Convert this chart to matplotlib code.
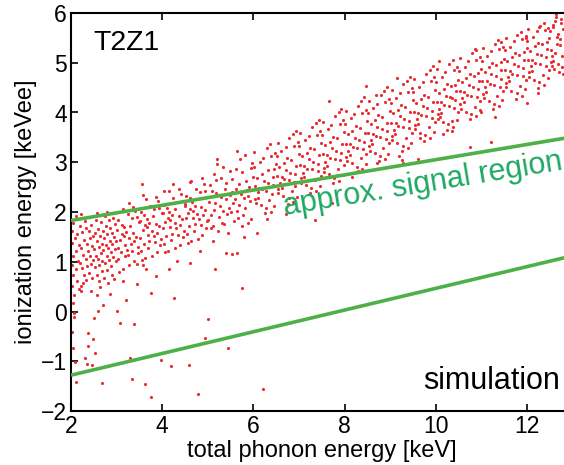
import numpy as np
import matplotlib
matplotlib.use("Agg")
import matplotlib.pyplot as plt

plt.rcParams['font.family'] = ['Liberation Sans', 'DejaVu Sans']

# (phonon energy [keV], ionization energy [keVee]), by energy range
pts_2_25 = [(2.02, 1.62), (2.03, 1.38), (2.04, 1.12), (2.02, 0.93), (2.05, 0.74), (2.03, 0.52), (2.06, 0.34),
            (2.04, 0.18), (2.07, -0.04), (2.06, -0.12), (2.03, -0.41), (2.05, -0.73), (2.08, -1.02), (2.10, -1.42),
            (2.04, 1.78), (2.09, 1.48), (2.11, 1.21), (2.12, 0.86), (2.14, 1.55), (2.15, 1.02), (2.13, 0.62),
            (2.17, 1.33), (2.18, 0.46), (2.19, 1.71), (2.20, 0.98), (2.21, 0.52), (2.22, 1.28), (2.23, 0.41),
            (2.24, 1.59), (2.25, 0.88), (2.26, 0.57), (2.27, 1.14), (2.28, 1.44), (2.29, 0.73), (2.30, -0.93),
            (2.31, 1.82), (2.32, 1.05), (2.33, 0.63), (2.34, 1.36), (2.35, -1.05), (2.36, 0.92), (2.37, -0.44),
            (2.38, 1.21), (2.37, -0.70), (2.39, 1.62), (2.40, 0.78), (2.41, 1.47), (2.42, 1.12), (2.43, 0.95),
            (2.44, 1.74), (2.45, -1.08), (2.46, 1.31), (2.47, 0.68), (2.48, -0.56), (2.48, 1.52), (2.49, 1.03),
            (2.12, 1.92), (2.22, 1.95), (2.33, 1.67), (2.44, 0.42)]
pts_25_3 = [(2.50, -0.14), (2.51, 1.25), (2.52, -0.84), (2.52, 0.89), (2.53, 1.58), (2.54, 1.12), (2.55, 1.84),
            (2.56, 0.73), (2.57, 1.41), (2.58, 0.33), (2.59, 1.06), (2.60, 0.01), (2.60, 1.66), (2.61, 1.29),
            (2.62, 0.94), (2.63, 1.51), (2.64, 0.49), (2.65, 1.17), (2.66, 1.79), (2.67, 0.82), (2.68, -1.43),
            (2.68, 1.36), (2.69, 1.02), (2.70, 0.13), (2.70, 1.62), (2.71, 1.23), (2.72, 0.67), (2.73, 1.47),
            (2.74, 1.91), (2.75, 0.98), (2.76, 1.33), (2.77, 1.71), (2.78, 1.12), (2.79, 2.01), (2.79, 0.84),
            (2.80, 1.55), (2.81, 1.27), (2.82, 0.58), (2.83, 1.83), (2.84, 1.04), (2.85, 1.42), (2.86, 1.68),
            (2.87, 0.91), (2.88, 1.19), (2.89, 1.57), (2.90, 0.74), (2.91, 1.36), (2.92, 1.88), (2.93, 1.09),
            (2.94, 1.49), (2.95, 0.66), (2.96, 1.25), (2.97, 1.76), (2.98, 1.01), (2.99, 1.41), (2.58, 1.97),
            (2.72, 1.95), (2.86, 0.35), (2.62, 0.61)]
pts_3_35 = [(3.02, 1.28), (3.28, 0.93), (3.11, 1.74), (3.39, 1.41), (3.04, 1.06), (3.33, 1.87), (3.17, 1.52),
            (3.46, 1.17), (3.01, 1.63), (3.22, 1.24), (3.41, 2.03), (3.13, 0.86), (3.36, 1.58), (3.07, 1.44),
            (3.49, 1.79), (3.19, 1.11), (3.31, 1.36), (3.24, 1.96), (3.09, 1.19), (3.43, 1.49), (3.16, 1.69),
            (3.38, 1.02), (3.03, 1.83), (3.27, 1.47), (3.48, 1.29), (3.14, 2.07), (3.34, 1.21), (3.21, 1.59),
            (3.06, 0.79), (3.44, 1.89), (3.29, 1.72), (3.18, 1.33), (3.37, 2.11), (3.12, 1.55), (3.45, 0.96),
            (3.26, 1.14), (3.00, 0.02), (3.07, -0.24), (3.20, 0.23), (3.30, -0.94), (3.34, -1.35),
            (3.38, -0.26), (3.13, 0.62), (3.44, 0.55), (3.27, 2.18)]
pts_35_4 = [(3.52, 1.47), (3.78, 1.12), (3.61, 1.93), (3.89, 1.58), (3.54, 1.21), (3.83, 2.06), (3.67, 1.69),
            (3.96, 1.34), (3.51, 1.82), (3.72, 1.41), (3.91, 2.22), (3.63, 1.07), (3.86, 1.76), (3.57, 1.63),
            (3.99, 1.97), (3.69, 1.28), (3.81, 1.52), (3.74, 2.13), (3.59, 1.36), (3.93, 1.71), (3.66, 1.86),
            (3.88, 1.19), (3.53, 1.99), (3.77, 1.62), (3.98, 1.45), (3.64, 2.27), (3.84, 1.39), (3.71, 1.78),
            (3.56, 1.04), (3.94, 2.08), (3.79, 1.91), (3.68, 1.54), (3.87, 2.31), (3.62, 1.73), (3.55, 2.56),
            (3.62, -1.45), (3.75, 0.37), (3.75, -1.71), (3.97, -0.98), (3.86, 0.72), (3.58, 2.34),
            (3.65, 0.86), (3.58, 0.93)]
pts_4_45 = [(4.02, 1.68), (4.28, 1.27), (4.11, 2.09), (4.39, 1.74), (4.04, 1.36), (4.33, 2.21), (4.17, 1.84),
            (4.46, 1.49), (4.01, 1.97), (4.22, 1.56), (4.41, 2.37), (4.13, 1.22), (4.36, 1.91), (4.07, 1.79),
            (4.49, 2.12), (4.19, 1.43), (4.31, 1.67), (4.24, 2.28), (4.09, 1.51), (4.43, 1.86), (4.16, 2.01),
            (4.38, 1.34), (4.03, 2.14), (4.27, 1.77), (4.48, 1.61), (4.14, 2.42), (4.34, 1.54), (4.21, 1.93),
            (4.06, 1.19), (4.44, 2.23), (4.29, 2.06), (4.18, 1.69), (4.37, 2.46), (4.12, 1.88), (4.20, -1.10),
            (4.25, 0.28), (4.15, 0.85), (4.33, 1.02), (4.24, 2.56), (4.03, 2.42)]
pts_45_5 = [(4.52, 1.87), (4.78, 1.46), (4.61, 2.28), (4.89, 1.93), (4.54, 1.55), (4.83, 2.41), (4.67, 2.03),
            (4.96, 1.68), (4.51, 2.16), (4.72, 1.75), (4.91, 2.56), (4.63, 1.41), (4.86, 2.11), (4.57, 1.98),
            (4.99, 2.31), (4.69, 1.62), (4.81, 1.86), (4.74, 2.47), (4.59, 1.71), (4.93, 2.05), (4.66, 2.21),
            (4.88, 1.53), (4.53, 2.33), (4.77, 1.96), (4.98, 1.81), (4.64, 2.62), (4.84, 1.73), (4.71, 2.12),
            (4.56, 1.38), (4.94, 2.43), (4.79, 2.26), (4.68, 1.88), (4.87, 2.69), (4.62, 2.07), (4.59, -1.08),
            (4.79, -1.65), (4.94, -0.54), (4.62, 0.98), (4.83, 1.21), (4.60, 2.60)]
pts_5_55 = [(5.03, 2.21), (5.31, 1.78), (5.17, 2.64), (5.46, 2.08), (5.08, 1.93), (5.37, 2.47), (5.22, 1.62),
            (5.49, 2.83), (5.05, 2.55), (5.28, 2.31), (5.12, 1.71), (5.42, 1.96), (5.19, 2.39), (5.34, 2.91),
            (5.01, 1.84), (5.26, 2.12), (5.45, 1.58), (5.14, 2.76), (5.39, 2.26), (5.09, 2.43), (5.24, 1.89),
            (5.48, 2.35), (5.33, 2.02), (5.16, 2.18), (5.29, 2.69), (5.06, 1.67), (5.41, 2.59), (5.21, 2.97),
            (5.36, 1.75), (5.13, 2.05), (5.00, -0.16), (5.15, 0.85), (5.40, 1.17), (5.44, -0.74), (5.52, 1.16),
            (5.20, 3.06), (5.11, 1.41)]
pts_55_6 = [(5.52, 2.41), (5.78, 1.94), (5.61, 2.87), (5.93, 2.23), (5.57, 1.81), (5.84, 2.62), (5.69, 2.15),
            (5.97, 2.98), (5.54, 2.66), (5.73, 2.37), (5.88, 1.77), (5.63, 2.03), (5.91, 2.51), (5.71, 3.06),
            (5.59, 2.27), (5.82, 2.09), (5.99, 2.71), (5.66, 1.88), (5.86, 2.44), (5.76, 2.81), (5.51, 1.99),
            (5.95, 1.86), (5.68, 2.56), (5.81, 3.14), (5.56, 2.19), (5.89, 2.33), (5.74, 1.72), (5.62, 2.47),
            (5.94, 2.89), (5.79, 2.28), (5.65, 1.17), (5.75, 0.47), (5.80, 1.50), (5.64, 3.22)]
pts_6_65 = [(6.03, 2.53), (6.27, 2.08), (6.14, 3.01), (6.41, 2.37), (6.06, 2.19), (6.33, 2.84), (6.19, 2.46),
            (6.47, 3.19), (6.01, 2.91), (6.23, 2.62), (6.38, 2.01), (6.11, 2.29), (6.44, 2.71), (6.29, 3.28),
            (6.09, 2.41), (6.35, 2.24), (6.49, 2.96), (6.16, 2.14), (6.31, 2.58), (6.22, 3.09), (6.04, 2.27),
            (6.46, 2.12), (6.18, 2.77), (6.36, 3.36), (6.12, 2.49), (6.42, 2.55), (6.25, 1.98), (6.07, 2.69),
            (6.39, 3.12), (6.28, 2.43), (6.45, 2.86), (6.02, 3.21), (6.20, -1.55), (6.08, 1.57), (6.30, 1.85)]
pts_65_7 = [(6.52, 2.73), (6.77, 2.29), (6.61, 3.23), (6.89, 2.61), (6.55, 2.38), (6.83, 3.04), (6.68, 2.66),
            (6.97, 3.41), (6.51, 3.12), (6.72, 2.84), (6.86, 2.21), (6.63, 2.49), (6.94, 2.93), (6.79, 3.49),
            (6.58, 2.59), (6.85, 2.43), (6.99, 3.17), (6.66, 2.33), (6.81, 2.79), (6.71, 3.31), (6.54, 2.47),
            (6.96, 2.31), (6.67, 2.98), (6.87, 3.57), (6.62, 2.71), (6.92, 2.76), (6.75, 2.17), (6.57, 2.91),
            (6.88, 3.33), (6.78, 2.64), (6.93, 3.63), (6.53, 3.39), (6.74, 3.08), (6.91, 2.52), (6.72, 1.95)]
pts_7_75 = [(7.02, 2.94), (7.27, 2.48), (7.13, 3.44), (7.41, 2.83), (7.05, 2.59), (7.33, 3.26), (7.18, 2.87),
            (7.47, 3.62), (7.01, 3.33), (7.22, 3.06), (7.38, 2.42), (7.11, 2.71), (7.44, 3.14), (7.29, 3.71),
            (7.08, 2.79), (7.35, 2.64), (7.49, 3.39), (7.16, 2.55), (7.31, 3.01), (7.21, 3.53), (7.04, 2.68),
            (7.46, 2.52), (7.17, 3.19), (7.37, 3.79), (7.12, 2.92), (7.42, 2.97), (7.25, 2.38), (7.07, 3.12),
            (7.39, 3.55), (7.28, 2.86), (7.43, 3.84), (7.03, 3.58), (7.24, 3.29), (7.48, 2.73), (7.35, 1.83)]
pts_75_8 = [(7.52, 3.16), (7.77, 2.69), (7.63, 3.66), (7.91, 3.04), (7.55, 2.81), (7.83, 3.48), (7.68, 3.09),
            (7.97, 3.84), (7.51, 3.55), (7.72, 3.28), (7.88, 2.63), (7.61, 2.93), (7.94, 3.36), (7.79, 3.93),
            (7.58, 3.01), (7.85, 2.86), (7.99, 3.61), (7.66, 2.77), (7.81, 3.23), (7.71, 3.75), (7.54, 2.89),
            (7.96, 2.74), (7.67, 3.41), (7.87, 4.01), (7.62, 3.14), (7.92, 3.19), (7.75, 2.59), (7.57, 3.34),
            (7.89, 3.77), (7.78, 3.07), (7.93, 4.08), (7.53, 3.81), (7.74, 3.51), (7.98, 2.95), (7.66, 4.23),
            (7.72, 2.18)]
pts_8_85 = [(8.02, 3.37), (8.27, 2.91), (8.13, 3.88), (8.41, 3.26), (8.05, 3.02), (8.33, 3.69), (8.18, 3.31),
            (8.47, 4.06), (8.01, 3.77), (8.22, 3.49), (8.38, 2.86), (8.11, 3.15), (8.44, 3.58), (8.29, 4.14),
            (8.08, 3.23), (8.35, 3.08), (8.49, 3.83), (8.16, 2.99), (8.31, 3.45), (8.21, 3.97), (8.04, 3.11),
            (8.46, 2.96), (8.17, 3.63), (8.37, 4.23), (8.12, 3.36), (8.42, 3.41), (8.25, 2.81), (8.07, 3.56),
            (8.39, 3.99), (8.28, 3.29), (8.43, 4.31), (8.03, 4.03), (8.24, 3.73), (8.48, 3.17), (8.17, 2.70),
            (8.30, 2.82), (8.47, 4.53)]
pts_85_9 = [(8.52, 3.58), (8.77, 3.12), (8.63, 4.09), (8.91, 3.47), (8.55, 3.23), (8.83, 3.91), (8.68, 3.52),
            (8.97, 4.27), (8.51, 3.98), (8.72, 3.71), (8.88, 3.07), (8.61, 3.36), (8.94, 3.79), (8.79, 4.36),
            (8.58, 3.44), (8.85, 3.29), (8.99, 4.04), (8.66, 3.19), (8.81, 3.66), (8.71, 4.18), (8.54, 3.32),
            (8.96, 3.17), (8.67, 3.84), (8.87, 4.44), (8.62, 3.57), (8.92, 3.62), (8.75, 3.02), (8.57, 3.77),
            (8.89, 4.21), (8.78, 3.51), (8.93, 4.52), (8.53, 4.24), (8.74, 3.94), (8.98, 3.38), (8.70, 2.98),
            (8.69, 4.35)]
pts_9_95 = [(9.02, 3.79), (9.27, 3.33), (9.13, 4.29), (9.41, 3.68), (9.05, 3.44), (9.33, 4.11), (9.18, 3.73),
            (9.47, 4.49), (9.01, 4.19), (9.22, 3.92), (9.38, 3.28), (9.11, 3.56), (9.44, 4.01), (9.29, 4.57),
            (9.08, 3.65), (9.35, 3.49), (9.49, 4.25), (9.16, 3.39), (9.31, 3.87), (9.21, 4.39), (9.04, 3.53),
            (9.46, 3.38), (9.17, 4.06), (9.37, 4.64), (9.12, 3.78), (9.42, 3.83), (9.26, 3.22), (9.07, 3.98),
            (9.39, 4.42), (9.28, 3.71), (9.43, 4.72), (9.03, 4.45), (9.24, 4.15), (9.48, 3.59), (9.15, 4.70),
            (9.20, 3.12), (9.25, 3.05), (9.28, 2.98)]
pts_95_10 = [(9.52, 4.01), (9.77, 3.54), (9.63, 4.51), (9.91, 3.89), (9.55, 3.66), (9.83, 4.32), (9.68, 3.94),
             (9.97, 4.71), (9.51, 4.41), (9.72, 4.13), (9.88, 3.49), (9.61, 3.77), (9.94, 4.22), (9.79, 4.78),
             (9.58, 3.86), (9.85, 3.71), (9.99, 4.46), (9.66, 3.59), (9.81, 4.09), (9.71, 4.61), (9.54, 3.74),
             (9.96, 3.61), (9.67, 4.27), (9.87, 4.86), (9.62, 3.99), (9.92, 4.04), (9.75, 3.43), (9.57, 4.19),
             (9.89, 4.64), (9.78, 3.92), (9.93, 4.94), (9.53, 4.67), (9.74, 4.36), (9.98, 3.81), (9.60, 3.06),
             (9.65, 3.48)]
pts_10_105 = [(10.02, 4.22), (10.27, 3.76), (10.13, 4.71), (10.41, 4.09), (10.05, 3.87), (10.33, 4.53),
              (10.18, 4.15), (10.47, 4.91), (10.01, 4.62), (10.22, 4.34), (10.38, 3.71), (10.11, 3.99),
              (10.44, 4.43), (10.29, 4.98), (10.08, 4.07), (10.35, 4.29), (10.49, 4.66), (10.16, 3.81),
              (10.31, 4.31), (10.21, 4.82), (10.04, 3.96), (10.46, 3.84), (10.17, 4.48), (10.37, 5.06),
              (10.12, 4.21), (10.42, 4.25), (10.25, 3.65), (10.07, 4.39), (10.39, 4.85), (10.28, 4.13),
              (10.43, 4.56), (10.03, 4.88), (10.24, 4.57), (10.48, 4.02), (10.16, 3.57), (10.36, 3.63),
              (10.35, 3.83), (10.10, 3.90), (10.07, 5.03)]
pts_105_11 = [(10.52, 4.43), (10.77, 3.97), (10.63, 4.92), (10.91, 4.31), (10.55, 4.08), (10.83, 4.74),
              (10.68, 4.36), (10.97, 5.12), (10.51, 4.83), (10.72, 4.56), (10.88, 3.92), (10.61, 4.21),
              (10.94, 4.64), (10.79, 5.19), (10.58, 4.29), (10.85, 4.12), (10.99, 4.87), (10.66, 4.02),
              (10.81, 4.52), (10.71, 5.04), (10.54, 4.17), (10.96, 4.05), (10.67, 4.69), (10.87, 5.27),
              (10.62, 4.42), (10.92, 4.47), (10.75, 3.86), (10.57, 4.61), (10.89, 5.06), (10.78, 4.34),
              (10.93, 4.79), (10.53, 5.09), (10.74, 4.78), (10.98, 4.23), (10.75, 3.30), (10.88, 5.26)]
pts_11_115 = [(11.02, 4.64), (11.27, 4.18), (11.13, 5.13), (11.41, 4.52), (11.05, 4.29), (11.33, 4.95),
              (11.18, 4.57), (11.47, 5.31), (11.01, 5.04), (11.22, 4.77), (11.38, 4.13), (11.11, 4.42),
              (11.44, 4.85), (11.29, 5.38), (11.08, 4.51), (11.35, 4.33), (11.49, 5.08), (11.16, 4.23),
              (11.31, 4.73), (11.21, 5.24), (11.04, 4.38), (11.46, 4.26), (11.17, 4.91), (11.37, 5.46),
              (11.12, 4.63), (11.42, 4.68), (11.25, 4.07), (11.07, 4.82), (11.39, 5.27), (11.28, 4.55),
              (11.43, 5.01), (11.03, 5.29), (11.24, 4.99), (11.48, 4.44), (11.22, 3.40), (11.30, 3.90),
              (11.00, 4.00), (11.43, 5.42)]
pts_115_12 = [(11.52, 4.85), (11.77, 4.39), (11.63, 5.32), (11.91, 4.73), (11.55, 4.51), (11.83, 5.16),
              (11.68, 4.78), (11.97, 5.49), (11.51, 5.25), (11.72, 4.98), (11.88, 4.34), (11.61, 4.63),
              (11.94, 5.06), (11.79, 5.56), (11.58, 4.72), (11.85, 4.54), (11.99, 5.29), (11.66, 4.44),
              (11.81, 4.94), (11.71, 5.44), (11.54, 4.59), (11.96, 4.47), (11.67, 5.12), (11.87, 5.61),
              (11.62, 4.84), (11.92, 4.89), (11.75, 4.28), (11.57, 5.03), (11.89, 5.47), (11.78, 4.76),
              (11.93, 5.21), (11.53, 5.49), (11.74, 5.19), (11.98, 4.65), (11.97, 5.54)]
pts_12_125 = [(12.02, 5.05), (12.27, 4.61), (12.13, 5.52), (12.41, 4.94), (12.05, 4.72), (12.33, 5.37),
              (12.18, 4.99), (12.47, 5.69), (12.01, 5.44), (12.22, 5.18), (12.38, 4.56), (12.11, 4.84),
              (12.44, 5.27), (12.29, 5.74), (12.08, 4.93), (12.35, 4.76), (12.49, 5.49), (12.16, 4.66),
              (12.31, 5.15), (12.21, 5.63), (12.04, 4.81), (12.46, 4.69), (12.17, 5.33), (12.37, 5.79),
              (12.12, 5.06), (12.42, 5.11), (12.25, 4.49), (12.07, 5.24), (12.39, 5.66), (12.28, 4.98),
              (12.43, 5.42), (12.03, 5.68), (12.24, 5.39), (12.48, 4.86), (12.00, 4.20), (12.25, 4.40),
              (12.26, 5.72)]
pts_125_13 = [(12.52, 5.26), (12.71, 4.82), (12.58, 5.71), (12.77, 5.14), (12.55, 4.93), (12.68, 5.57),
              (12.61, 5.19), (12.74, 5.88), (12.51, 5.64), (12.66, 5.38), (12.79, 4.77), (12.57, 5.04),
              (12.73, 5.47), (12.64, 5.92), (12.54, 5.13), (12.69, 4.97), (12.78, 5.68), (12.59, 4.87),
              (12.72, 5.35), (12.62, 5.83), (12.53, 5.01), (12.76, 4.91), (12.65, 5.52), (12.56, 5.76),
              (12.63, 5.98), (12.75, 5.80)]

# approximate signal-region band edges
band_x = [2.0, 13.0]
band_upper = [1.83, 3.51]
band_lower = [-1.28, 1.12]

segments = [pts_2_25, pts_25_3, pts_3_35, pts_35_4, pts_4_45, pts_45_5, pts_5_55, pts_55_6,
            pts_6_65, pts_65_7, pts_7_75, pts_75_8, pts_8_85, pts_85_9, pts_9_95, pts_95_10,
            pts_10_105, pts_105_11, pts_11_115, pts_115_12, pts_12_125, pts_125_13]
pts = np.array([p for seg in segments for p in seg])

fig = plt.figure(figsize=(5.64, 4.65), dpi=100)
# axis runs to 13 keV, right edge falls off the canvas like the original crop
ax = fig.add_axes([71 / 564, 1 - 411 / 465, 501.6 / 564, 398 / 465])

ax.scatter(pts[:, 0], pts[:, 1], s=5, color='#ea2a2f', linewidths=0, zorder=2)
ax.plot(band_x, band_upper, color='#4fb04a', lw=2.6, solid_capstyle='butt', zorder=3)
ax.plot(band_x, band_lower, color='#4fb04a', lw=2.6, solid_capstyle='butt', zorder=3)

ax.set_xlim(2, 13)
ax.set_ylim(-2, 6)
ax.set_xticks([2, 4, 6, 8, 10, 12])
ax.set_yticks(range(-2, 7))
ax.tick_params(direction='in', top=True, right=True, length=5, width=1.2, labelsize=16.5, pad=3)
for sp in ax.spines.values():
    sp.set_linewidth(1.5)

ax.set_xlabel('total phonon energy [keV]', fontsize=17, labelpad=1)
ax.set_ylabel('ionization energy [keVee]', fontsize=17, labelpad=3)

ax.text(2.5, 5.26, 'T2Z1', fontsize=20.5, ha='left', va='baseline')
ax.text(12.73, -1.55, 'simulation', fontsize=22, ha='right', va='baseline')
ax.text(6.69, 1.94, 'approx. signal region', fontsize=22, color='#1fa865',
        rotation=9.3, rotation_mode='anchor', ha='left', va='baseline')

fig.savefig('out.png', dpi=100)
